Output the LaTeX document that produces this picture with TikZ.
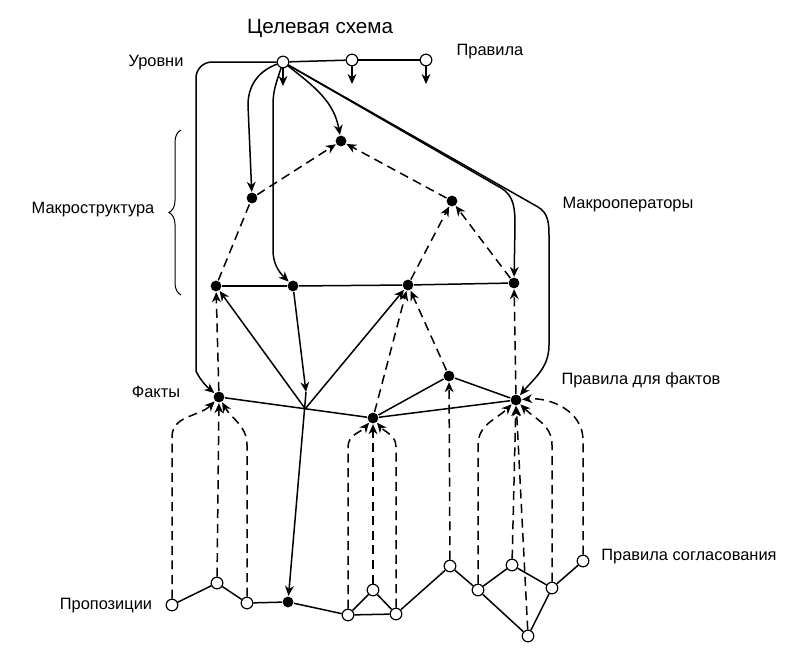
\documentclass[tikz,border=0pt]{standalone}
\usepackage{fontspec}
\setmainfont{Liberation Sans}
\usetikzlibrary{arrows.meta,calc,decorations.pathreplacing}

\tikzset{
	dot/.style={circle, fill=black, inner sep=0pt, minimum size=5.4pt},
	hole/.style={circle, draw, fill=white, line width=0.6pt, inner sep=0pt, minimum size=5.8pt},
	lbl/.style={font=\fontsize{8.2}{10}\selectfont},
	dsh/.style={dash pattern=on 4.5pt off 2.8pt},
	>={Stealth[length=5pt,width=4.4pt,inset=1.6pt]},
}

\begin{document}
\begin{tikzpicture}[x=0.5pt, y=0.5pt, line width=0.75pt]
	\useasboundingbox (0,0) rectangle (800,-649);

	\node[font=\fontsize{10.3}{12}\selectfont] (title) at (320,-28) {Целевая схема};
	\node[lbl] (rules) at (490,-52) {Правила};
	\node[lbl] (levels) at (156,-63) {Уровни};
	\node[lbl] (macro) at (93,-210) {Макроструктура};
	\node[lbl] (facts) at (156,-392) {Факты};
	\node[lbl] (macroops) at (628,-205) {Макрооператоры};
	\node[lbl] (factrules) at (641,-380) {Правила для фактов};
	\node[lbl] (agree) at (689,-557) {Правила согласования};
	\node[lbl] (props) at (106,-606) {Пропозиции};

	\node[hole] (r0) at (283,-62) {};
	\node[hole] (r1) at (352,-60) {};
	\node[hole] (r2) at (426,-60) {};
	\coordinate (d0) at (283,-86);
	\coordinate (d1) at (352,-84);
	\coordinate (d2) at (426,-84);

	\node[dot] (t) at (341,-141) {};
	\node[dot] (a1) at (252,-198) {};
	\node[dot] (a2) at (452,-201) {};
	\node[dot] (b1) at (216,-286) {};
	\node[dot] (b2) at (293,-286) {};
	\node[dot] (b3) at (408,-285) {};
	\node[dot] (b4) at (514,-283) {};
	\node[dot] (f1) at (219,-397) {};
	\node[dot] (f2) at (373,-418) {};
	\node[dot] (f3) at (449,-376) {};
	\node[dot] (f4) at (516,-400) {};
	\coordinate (j) at ($(f1)!0.56!(f2)$);
	\coordinate (k) at (306,-392);

	\node[hole] (p1) at (172,-605) {};
	\node[hole] (p2) at (217,-583) {};
	\node[hole] (p3) at (247,-603) {};
	\node[dot] (p4) at (288,-602) {};
	\node[hole] (p5) at (348,-615) {};
	\node[hole] (p6) at (373,-590) {};
	\node[hole] (p7) at (396,-614) {};
	\node[hole] (p8) at (450,-566) {};
	\node[hole] (p9) at (478,-590) {};
	\node[hole] (p10) at (512,-565) {};
	\node[hole] (p11) at (528,-636) {};
	\node[hole] (p12) at (552,-588) {};
	\node[hole] (p13) at (583,-561) {};

	\draw[line width=0.5pt, decorate, decoration={brace, amplitude=6pt}] (181,-295) -- (181,-130);

	\draw
		(r0) edge (r1)
		(r1) edge (r2)
		(r0) edge[->] (d0)
		(r1) edge[->] (d1)
		(r2) edge[->] (d2)
		(b1) edge (b2)
		(b2) edge (b3)
		(b3) edge (b4)
		(f1) edge (f2)
		(f2) edge (f3)
		(f3) edge (f4)
		(f2) edge (f4)
		(j) edge[->] (b1)
		(j) edge[->] (b3)
		(b2) edge[->] (k)
		(k) edge[->] (p4)
		(p1) edge (p2)
		(p2) edge (p3)
		(p3) edge (p4)
		(p4) edge (p5)
		(p5) edge (p6)
		(p6) edge (p7)
		(p5) edge (p7)
		(p7) edge (p8)
		(p8) edge (p9)
		(p9) edge (p10)
		(p10) edge (p12)
		(p9) edge (p11)
		(p11) edge (p12)
		(p12) edge (p13)
	;

	\draw[->, rounded corners=8pt] (r0.west) -- (196,-62) -- (196,-355) to[out=-90,in=140] (f1);
	\draw[->] (r0) to[out=200,in=90] (248,-105) -- (a1);
	\draw[->] (r0) to[out=-108,in=90] (273,-105) -- (273,-250) to[out=-90,in=135] (b2);
	\draw[->] (r0) to[out=-38,in=100] (t);
	\draw[->] (r0) -- (501,-188) to[out=-30,in=90] (515,-225) -- (b4);
	\draw[->] (r0) -- (538,-207) to[out=-30,in=90] (549,-235) -- (549,-345) to[out=-90,in=50] (f4);

	\draw[dsh]
		(a1) edge[->] (t)
		(a2) edge[->] (t)
		(b1) edge (a1)
		(b3) edge[->] (a2)
		(b4) edge[->] (a2)
		(f1) edge[->] (b1)
		(f2) edge[->] (b3)
		(f3) edge[->] (b3)
		(f4) edge[->] (b4)
		(p2) edge[->] (f1)
		(p6) edge[->] (f2)
		(p8) edge[->] (f3)
		(p10) edge[->] (f4)
		(p11) edge[->] (f4)
	;
	\draw[dsh, ->] (p1) -- (172,-437) to[out=90,in=-135] (f1);
	\draw[dsh, ->] (p3) -- (247,-445) to[out=90,in=-60] (f1);
	\draw[dsh, ->] (p5) -- (348,-447) to[out=90,in=-130] (f2);
	\draw[dsh, ->] (p7) -- (396,-447) to[out=90,in=-50] (f2);
	\draw[dsh, ->] (p9) -- (478,-445) to[out=90,in=-135] (f4);
	\draw[dsh, ->] (p12) -- (552,-445) to[out=90,in=-45] (f4);
	\draw[dsh, ->] (p13) -- (583,-440) to[out=90,in=5] (f4);
\end{tikzpicture}
\end{document}
